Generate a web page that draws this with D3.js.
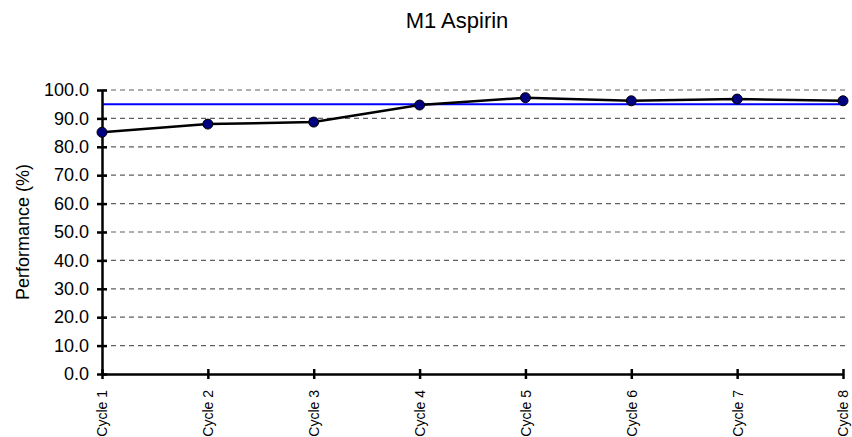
<!DOCTYPE html>
<html>
<head>
<meta charset="utf-8">
<script src="https://cdn.jsdelivr.net/npm/d3@7"></script>
<style>
  body { margin: 0; background: #fff; }
  text { font-family: "Liberation Sans", Arial, sans-serif; }
</style>
</head>
<body>
<div id="chart"></div>
<script>
// chart data
const cycles = ["Cycle 1", "Cycle 2", "Cycle 3", "Cycle 4", "Cycle 5", "Cycle 6", "Cycle 7", "Cycle 8"];
const performance = [85.1, 88.0, 88.7, 94.7, 97.3, 96.2, 96.8, 96.2];
const target = 95;
const yTicks = [0, 10, 20, 30, 40, 50, 60, 70, 80, 90, 100];

const width = 852, height = 437;
const margin = { top: 90, right: 9, bottom: 63, left: 102 };

const svg = d3.select("#chart")
  .append("svg")
  .attr("width", width)
  .attr("height", height);

const x = d3.scalePoint()
  .domain(cycles)
  .range([margin.left, width - margin.right]);

const y = d3.scaleLinear()
  .domain([0, 100])
  .range([height - margin.bottom, margin.top]);

// title
svg.append("text")
  .attr("x", 457)
  .attr("y", 28)
  .attr("text-anchor", "middle")
  .style("font-size", "22px")
  .text("M1 Aspirin");

// dashed gridlines
svg.append("g")
  .selectAll("line")
  .data(yTicks.filter(d => d > 0))
  .join("line")
  .attr("x1", margin.left)
  .attr("x2", width - 4)
  .attr("y1", d => y(d))
  .attr("y2", d => y(d))
  .attr("stroke", "#606060")
  .attr("stroke-width", 1.2)
  .attr("stroke-dasharray", "5,4");

// target line
svg.append("line")
  .attr("x1", margin.left)
  .attr("x2", x(cycles[cycles.length - 1]))
  .attr("y1", y(target))
  .attr("y2", y(target))
  .attr("stroke", "#0000ff")
  .attr("stroke-width", 2);

// y axis
const yAxis = svg.append("g")
  .attr("transform", `translate(${margin.left},0)`)
  .call(d3.axisLeft(y).tickValues(yTicks).tickFormat(d3.format(".1f")).tickSize(0).tickPadding(13));
yAxis.select(".domain").attr("stroke", "#000").attr("stroke-width", 2.5);
yAxis.selectAll("text").style("font-size", "18px").attr("fill", "#000");
yAxis.selectAll(".tick").append("line")
  .attr("x1", -5).attr("x2", 5)
  .attr("stroke", "#000").attr("stroke-width", 2.5);

// x axis
const xAxis = svg.append("g")
  .attr("transform", `translate(0,${y(0)})`)
  .call(d3.axisBottom(x).tickSize(0));
xAxis.select(".domain").attr("stroke", "#000").attr("stroke-width", 2.5);
xAxis.selectAll(".tick").append("line")
  .attr("y1", -5).attr("y2", 5)
  .attr("stroke", "#000").attr("stroke-width", 2.5);
xAxis.selectAll("text")
  .style("font-size", "14px")
  .attr("fill", "#000")
  .attr("text-anchor", "end")
  .attr("transform", "rotate(-90)")
  .attr("x", -16)
  .attr("y", 0)
  .attr("dy", "0.35em");

// y axis label
svg.append("text")
  .attr("transform", `translate(29,${(y(0) + y(100)) / 2}) rotate(-90)`)
  .attr("text-anchor", "middle")
  .style("font-size", "18px")
  .text("Performance (%)");

// performance line
const line = d3.line()
  .x((d, i) => x(cycles[i]))
  .y(d => y(d));

svg.append("path")
  .datum(performance)
  .attr("d", line)
  .attr("fill", "none")
  .attr("stroke", "#000")
  .attr("stroke-width", 2.5);

svg.append("g")
  .selectAll("circle")
  .data(performance)
  .join("circle")
  .attr("cx", (d, i) => x(cycles[i]))
  .attr("cy", d => y(d))
  .attr("r", 5)
  .attr("fill", "#000080")
  .attr("stroke", "#000")
  .attr("stroke-width", 1);
</script>
</body>
</html>
